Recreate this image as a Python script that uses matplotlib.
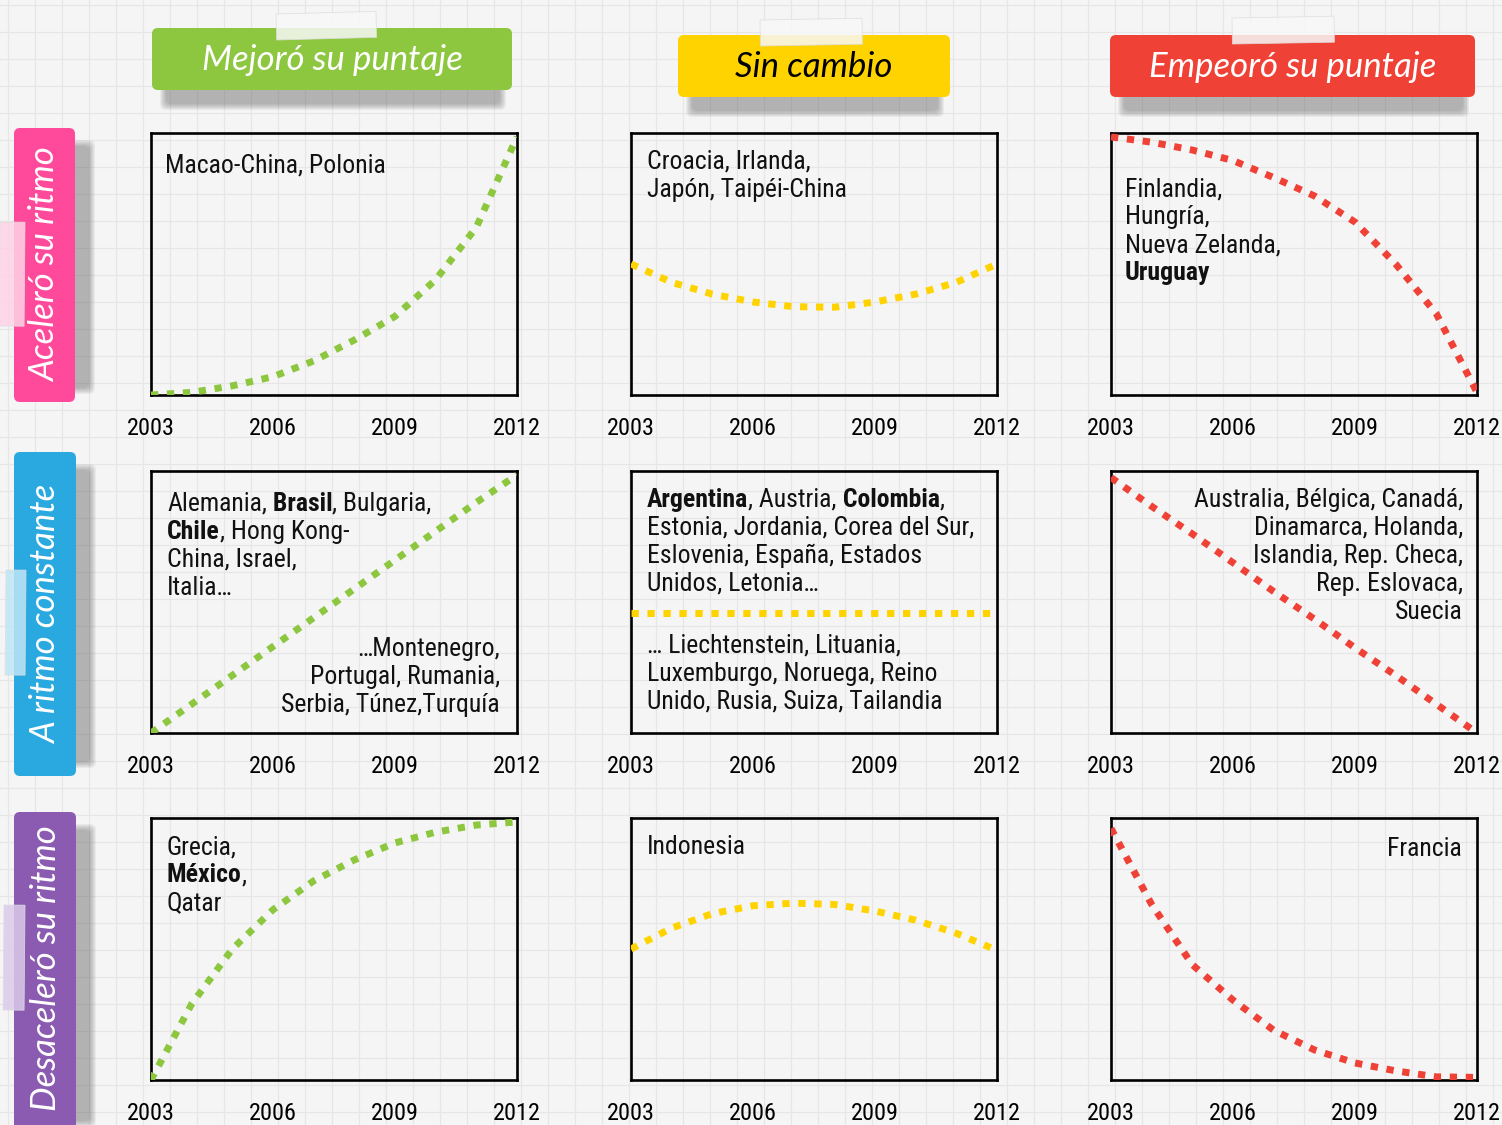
import numpy as np
import matplotlib.pyplot as plt
from matplotlib.patches import FancyBboxPatch, Rectangle
from matplotlib.font_manager import FontProperties, fontManager

W, H = 1502, 1125

######################################################################
## Data
######################################################################

years = [2003, 2004, 2005, 2006, 2007, 2008, 2009, 2010, 2011, 2012]
tick_years = [2003, 2006, 2009, 2012]

col_titles = ['Mejoró su puntaje', 'Sin cambio', 'Empeoró su puntaje']
row_titles = ['Aceleró su ritmo', 'A ritmo constante', 'Desaceleró su ritmo']

# curve heights as share of the panel height (0 = bottom, 1 = top)
acc_up = [0.0, 0.01, 0.035, 0.07, 0.13, 0.21, 0.30, 0.44, 0.64, 0.985]
acc_same = [0.50, 0.43, 0.385, 0.355, 0.337, 0.335, 0.355, 0.385, 0.43, 0.50]
acc_down = [0.985, 0.965, 0.935, 0.895, 0.83, 0.76, 0.66, 0.50, 0.31, 0.01]
const_up = [0.0, 0.11, 0.22, 0.33, 0.44, 0.55, 0.66, 0.77, 0.88, 0.985]
const_same = [0.458, 0.458, 0.458, 0.458, 0.458, 0.458, 0.458, 0.458, 0.458, 0.458]
const_down = [0.975, 0.865, 0.76, 0.65, 0.54, 0.435, 0.325, 0.22, 0.11, 0.0]
dec_up = [0.0, 0.29, 0.50, 0.65, 0.76, 0.84, 0.905, 0.946, 0.973, 0.985]
dec_same = [0.50, 0.58, 0.635, 0.665, 0.675, 0.67, 0.645, 0.61, 0.56, 0.495]
dec_down = [0.96, 0.67, 0.44, 0.305, 0.19, 0.115, 0.065, 0.035, 0.012, 0.01]

# country lists, **...** marks bold names
text_acc_up = ['Macao-China, Polonia']
text_acc_same = ['Croacia, Irlanda,', 'Japón, Taipéi-China']
text_acc_down = ['Finlandia,', 'Hungría,', 'Nueva Zelanda,', '**Uruguay**']
text_const_up_a = ['Alemania, **Brasil**, Bulgaria,', '**Chile**, Hong Kong-',
                   'China, Israel,', 'Italia…']
text_const_up_b = ['…Montenegro,', 'Portugal, Rumania,', 'Serbia, Túnez,Turquía']
text_const_same_a = ['**Argentina**, Austria, **Colombia**,',
                     'Estonia, Jordania, Corea del Sur,', 'Eslovenia, España, Estados',
                     'Unidos, Letonia…']
text_const_same_b = ['… Liechtenstein, Lituania,', 'Luxemburgo, Noruega, Reino',
                     'Unido, Rusia, Suiza, Tailandia']
text_const_down = ['Australia, Bélgica, Canadá,', 'Dinamarca, Holanda,',
                   'Islandia, Rep. Checa,', 'Rep. Eslovaca,', 'Suecia']
text_dec_up = ['Grecia,', '**México**,', 'Qatar']
text_dec_same = ['Indonesia']
text_dec_down = ['Francia']

######################################################################
## Style
######################################################################

def narrow_font():
    names = {f.name for f in fontManager.ttflist}
    for fam in ['Roboto Condensed', 'Liberation Sans Narrow', 'Open Sans Condensed',
                'Noto Sans Condensed']:
        if fam in names:
            return dict(family=fam)
    return dict(family='Roboto')

NARROW = narrow_font()
FS = 18.5
reg_font = FontProperties(size=FS, **NARROW)
bold_font = FontProperties(size=FS, weight='bold', **NARROW)
tick_font = FontProperties(size=17.5, **NARROW)
HAND = ['Lato', 'DejaVu Sans']

GREEN, YELLOW, RED = '#8DC63F', '#FFD300', '#EF4136'
col_colors = [GREEN, YELLOW, RED]
col_text_colors = ['white', 'black', 'white']
row_colors = ['#FF4A9C', '#2AA9E0', '#8A5BB1']
tape_colors = ['#FFD3E6', '#BFE6F6', '#DCCBEA']

col_left = [151, 631, 1111]
row_top = [133, 471, 818]
BOX_W, BOX_H = 366, 262
STEP = 28

# (values, text blocks) per panel; block = (ha, dx, first baseline dy, lines)
panels = [
    (acc_up, [('left', 14, 39, text_acc_up)]),
    (acc_same, [('left', 16, 36, text_acc_same)]),
    (acc_down, [('left', 14, 63, text_acc_down)]),
    (const_up, [('left', 16, 40, text_const_up_a), ('right', -17, 185, text_const_up_b)]),
    (const_same, [('left', 16, 36, text_const_same_a), ('left', 16, 182, text_const_same_b)]),
    (const_down, [('right', -14, 36, text_const_down)]),
    (dec_up, [('left', 16, 36, text_dec_up)]),
    (dec_same, [('left', 16, 36, text_dec_same)]),
    (dec_down, [('right', -15, 38, text_dec_down)]),
]

######################################################################
## Figure
######################################################################

fig = plt.figure(figsize=(W / 100, H / 100), dpi=100)
fig.patch.set_facecolor('#F5F5F5')
bg = fig.add_axes([0, 0, 1, 1])
bg.set_xlim(0, W)
bg.set_ylim(H, 0)
bg.axis('off')

# grid paper
for gx in np.arange(8, W, 27):
    bg.axvline(gx, color='#E6E6E6', lw=0.9, zorder=0)
for gy in np.arange(5, H, 27):
    bg.axhline(gy, color='#E6E6E6', lw=0.9, zorder=0)


def soft_shadow(x0, y0, x1, y1):
    for k in range(7):
        bg.add_patch(FancyBboxPatch((x0 + k, y0 + k), x1 - x0 - 2 * k, y1 - y0 - 2 * k,
                                    boxstyle='round,pad=0,rounding_size=6',
                                    fc='#555555', ec='none', alpha=0.07, zorder=1))


def tape(x, y, w, h, angle, color):
    bg.add_patch(Rectangle((x, y), w, h, angle=angle, fc=color, ec='#DDDDDD',
                           lw=0.6, alpha=0.85, zorder=4))


def rich_line(ax, x, y, line):
    """Left aligned line where **...** parts are bold."""
    parts = line.split('**')
    segs = []
    carry = ''
    for k, part in enumerate(parts):
        part = carry + part
        carry = part[len(part.rstrip()):]
        part = part.rstrip()
        if part:
            segs.append((part, k % 2 == 1))
    prev = None
    for text, bold in segs:
        fp = bold_font if bold else reg_font
        if prev is None:
            prev = ax.text(x, y, text, transform=bg.transData, ha='left', va='baseline',
                           fontproperties=fp, color='#111111', zorder=6)
        else:
            prev = ax.annotate(text, xy=(1, 0), xycoords=prev, ha='left', va='bottom',
                               fontproperties=fp, color='#111111', zorder=6)


# column headers
head_boxes = [(152, 28, 512, 90), (678, 35, 950, 97), (1110, 35, 1475, 97)]
head_tapes = [(276, 14, 100, 26, -1.5), (760, 20, 102, 26, -1.0), (1232, 18, 102, 26, -1.0)]
for i, title in enumerate(col_titles):
    x0, y0, x1, y1 = head_boxes[i]
    soft_shadow(x0 + 8, y0 + 30, x1 - 6, y1 + 20)
    bg.add_patch(FancyBboxPatch((x0, y0), x1 - x0, y1 - y0,
                                boxstyle='round,pad=0,rounding_size=6',
                                fc=col_colors[i], ec='none', zorder=2))
    tx, ty, tw, th, ta = head_tapes[i]
    tape(tx, ty, tw, th, ta, '#F8F8F8')
    bg.text((x0 + x1) / 2, (y0 + y1) / 2 + 1, title, ha='center', va='center',
            fontsize=25, family=HAND, style='italic', color=col_text_colors[i], zorder=5)

# row labels
row_boxes = [(14, 128, 75, 402), (14, 452, 76, 776), (14, 812, 76, 1135)]
row_tapes = [(0, 222, 25, 104), (6, 570, 20, 105), (4, 905, 21, 105)]
for i, title in enumerate(row_titles):
    x0, y0, x1, y1 = row_boxes[i]
    soft_shadow(x0 + 40, y0 + 12, x1 + 20, y1 - 8)
    bg.add_patch(FancyBboxPatch((x0, y0), x1 - x0, y1 - y0,
                                boxstyle='round,pad=0,rounding_size=6',
                                fc=row_colors[i], ec='none', zorder=2))
    tx, ty, tw, th = row_tapes[i]
    tape(tx, ty, tw, th, 0.5, tape_colors[i])
    cy = (y0 + min(y1, H)) / 2
    bg.text((x0 + x1) / 2 + 1, cy, title, ha='center', va='center', rotation=90,
            fontsize=25, family=HAND, style='italic', color='white', zorder=5)

# panels
for i, (values, blocks) in enumerate(panels):
    r, c = divmod(i, 3)
    left, top = col_left[c], row_top[r]
    ax = fig.add_axes([left / W, (H - top - BOX_H) / H, BOX_W / W, BOX_H / H])
    ax.set_facecolor('none')
    ax.plot(years, values, color=col_colors[c], lw=5, dashes=(1.05, 1.25),
            dash_capstyle='butt', zorder=3)
    ax.set_xlim(2003, 2012)
    ax.set_ylim(0, 1)
    ax.set_xticks(tick_years)
    ax.set_xticklabels([str(y) for y in tick_years], fontproperties=tick_font)
    ax.set_yticks([])
    ax.tick_params(axis='x', length=0, pad=16)
    for s in ax.spines.values():
        s.set_linewidth(1.9)
        s.set_color('black')

    for ha, dx, dy, lines in blocks:
        x = left + dx if ha == 'left' else left + BOX_W + dx
        for k, line in enumerate(lines):
            y = top + dy + k * STEP
            if ha == 'left':
                rich_line(ax, x, y, line)
            else:
                ax.text(x, y, line, transform=bg.transData, ha='right', va='baseline',
                        fontproperties=reg_font, color='#111111', zorder=6)

fig.savefig('out.png', dpi=100, facecolor=fig.get_facecolor())
